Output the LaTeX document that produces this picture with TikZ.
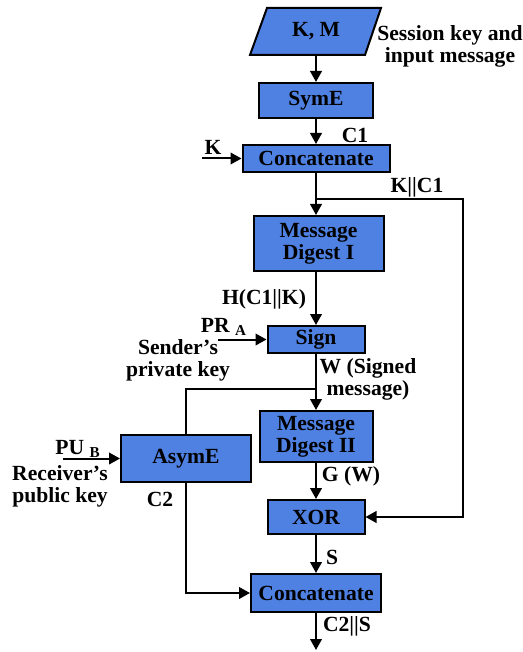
\documentclass[tikz,border=0pt]{standalone}
\usepackage{fontspec}
\setmainfont{Liberation Serif}
\usetikzlibrary{arrows.meta}
\definecolor{boxblue}{RGB}{79,129,226}
\begin{document}
\begin{tikzpicture}[x=0.5pt,y=-0.5pt,line width=1pt,
    font=\fontsize{10.8}{11}\selectfont\bfseries,
    >={Triangle[length=5.5pt,width=5.8pt]},
    blk/.style={draw,fill=boxblue,inner sep=0pt,align=center},
    lbl/.style={inner sep=0pt,align=center}]
    \useasboundingbox (0,0) rectangle (523,652);
    
    % input
    \draw[fill=boxblue] (267,8) -- (381,8) -- (365,55) -- (250,55) -- cycle;
    \node[lbl] (km) at (316,31.5) {K, M};
    \coordinate (kmb) at (316,55);
    \node[lbl] (kmtxt) at (450,46) {Session key and\\input message};
    
    % boxes
    \node[blk,minimum width=57pt,minimum height=17.5pt] (syme) at (316,100.5) {SymE};
    \node[blk,minimum width=73.5pt,minimum height=13.5pt] (cat1) at (316,158.5) {Concatenate};
    \node[blk,minimum width=65pt,minimum height=27.5pt] (md1) at (318.5,243.5) {Message\\Digest I};
    \node[blk,minimum width=48.5pt,minimum height=13.5pt] (sign) at (316,339.5) {Sign};
    \node[blk,minimum width=56.5pt,minimum height=25.5pt] (md2) at (316,436.5) {Message\\Digest II};
    \node[blk,minimum width=65pt,minimum height=23.5pt] (asym) at (186,458.5) {AsymE};
    \node[blk,minimum width=48.5pt,minimum height=17pt] (xor) at (316,517) {XOR};
    \node[blk,minimum width=65pt,minimum height=19pt] (cat2) at (316,593) {Concatenate};
    
    % labels
    \node[lbl] (c1) at (355,135) {C1};
    \node[lbl] (k) at (213,147) {K};
    \node[lbl] (kc1) at (417,187) {K||C1};
    \node[lbl] (h) at (264,299) {H(C1||K)};
    \node[lbl] (pra) at (224,327) {PR \textsubscript{A}};
    \node[lbl] (snd) at (178,360) {Sender’s\\private key};
    \node[lbl] (w) at (368,379) {W (Signed\\message)};
    \node[lbl] (pub) at (78,449) {PU \textsubscript{B}};
    \node[lbl] (rcv) at (60,486) {Receiver’s\\public key};
    \node[lbl] (c2) at (160,499) {C2};
    \node[lbl] (g) at (351,476) {G (W)};
    \node[lbl] (s) at (332,557) {S};
    \node[lbl] (c2s) at (347,626) {C2||S};
    
    % connectors
    \coordinate (kin) at (202,158.5);
    \coordinate (br1) at (316,199);
    \coordinate (kcr) at (463,199);
    \coordinate (prin) at (218,339.5);
    \coordinate (br2) at (316,389);
    \coordinate (puin) at (63,458.5);
    \coordinate (out) at (316,650);
    
    \draw[->] (kmb) -- (syme);
    \draw[->] (syme) -- (cat1);
    \draw[->] (kin) -- (cat1);
    \draw[->] (cat1.south) -- (cat1.south |- md1.north);
    \draw[->] (br1) -- (kcr) |- (xor);
    \draw[->] (md1.south -| sign) -- (sign);
    \draw[->] (prin) -- (sign);
    \draw[->] (sign) -- (md2);
    \draw (br2) -| (asym);
    \draw[->] (puin) -- (asym);
    \draw[->] (md2) -- (xor);
    \draw[->] (asym) |- (cat2);
    \draw[->] (xor) -- (cat2);
    \draw[->] (cat2) -- (out);
    
\end{tikzpicture}
\end{document}
